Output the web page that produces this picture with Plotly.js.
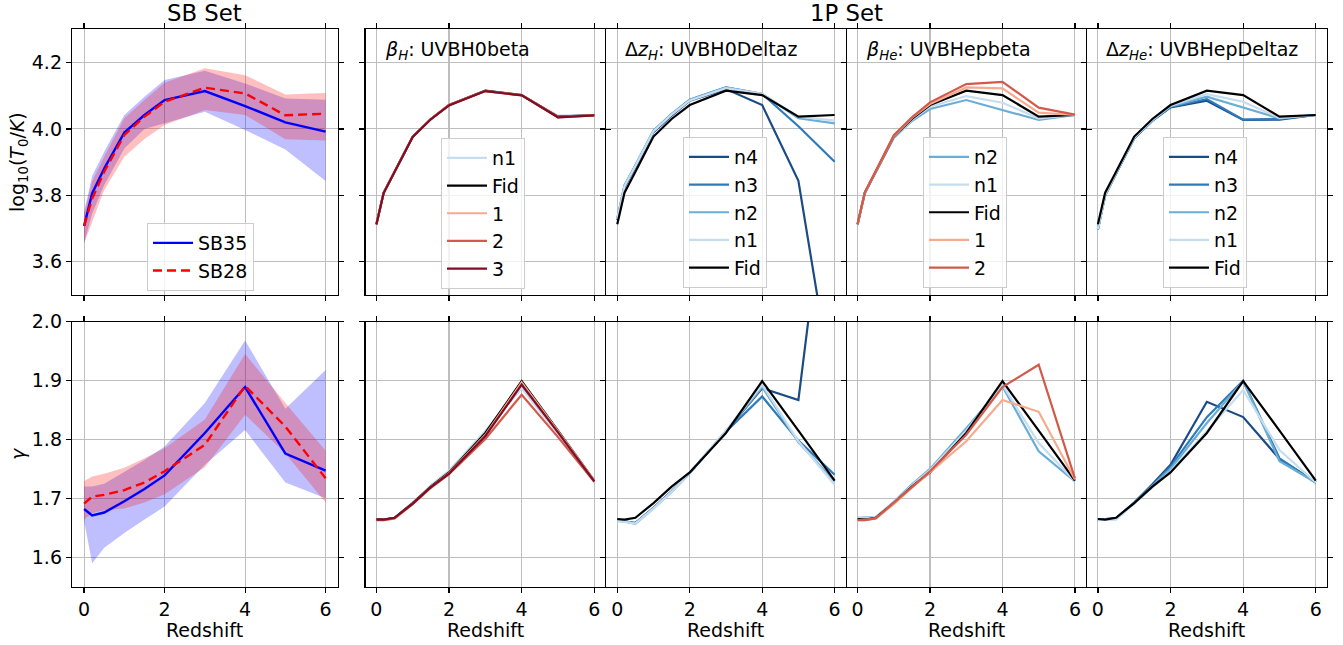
<!DOCTYPE html>
<html><head><meta charset="utf-8">
<script src="https://cdn.plot.ly/plotly-3.0.1.min.js"></script>
<style>html,body{margin:0;padding:0;background:#fff}#chart{width:1343px;height:645px}</style>
</head><body><div id="chart"></div>
<script>
// ---------------- data ----------------
const redshift = [0, 0.2, 0.5, 1, 1.5, 2, 3, 4, 5, 6];

// SB set
const sb35_T0    = [3.708, 3.806, 3.881, 3.989, 4.042, 4.087, 4.114, 4.069, 4.020, 3.992];
const sb35_T0_lo = [3.656, 3.745, 3.831, 3.941, 4.000, 4.017, 4.052, 3.997, 3.938, 3.843];
const sb35_T0_hi = [3.750, 3.858, 3.931, 4.042, 4.097, 4.147, 4.175, 4.137, 4.092, 4.088];
const sb28_T0    = [3.708, 3.790, 3.871, 3.982, 4.037, 4.082, 4.124, 4.107, 4.041, 4.046];
const sb28_T0_lo = [3.655, 3.720, 3.816, 3.916, 3.970, 4.012, 4.057, 4.042, 3.969, 3.965];
const sb28_T0_hi = [3.745, 3.842, 3.916, 4.032, 4.087, 4.139, 4.183, 4.162, 4.104, 4.108];

const sb35_gamma    = [1.682, 1.671, 1.676, 1.695, 1.716, 1.739, 1.811, 1.889, 1.776, 1.747];
const sb35_gamma_lo = [1.662, 1.590, 1.616, 1.641, 1.664, 1.686, 1.757, 1.816, 1.727, 1.700];
const sb35_gamma_hi = [1.720, 1.720, 1.725, 1.745, 1.765, 1.788, 1.862, 1.968, 1.852, 1.918];
const sb28_gamma    = [1.691, 1.703, 1.706, 1.714, 1.727, 1.746, 1.791, 1.891, 1.822, 1.734];
const sb28_gamma_lo = [1.664, 1.675, 1.680, 1.683, 1.693, 1.707, 1.753, 1.842, 1.776, 1.693];
const sb28_gamma_hi = [1.729, 1.737, 1.742, 1.752, 1.768, 1.785, 1.834, 1.945, 1.862, 1.781];

// 1P set: fiducial
const fid_T0    = [3.713, 3.808, 3.871, 3.977, 4.030, 4.072, 4.115, 4.102, 4.037, 4.042];
const fid_gamma = [1.665, 1.664, 1.667, 1.692, 1.720, 1.744, 1.811, 1.899, 1.815, 1.730];

// beta_H : UVBH0beta
const bH_n1_T0 = [3.713, 3.808, 3.871, 3.977, 4.030, 4.072, 4.115, 4.101, 4.040, 4.042];
const bH_1_T0  = [3.713, 3.808, 3.871, 3.977, 4.030, 4.072, 4.114, 4.102, 4.036, 4.042];
const bH_2_T0  = [3.713, 3.807, 3.870, 3.976, 4.030, 4.072, 4.114, 4.102, 4.035, 4.041];
const bH_3_T0  = [3.712, 3.807, 3.870, 3.976, 4.029, 4.071, 4.114, 4.101, 4.035, 4.041];
const bH_n1_gamma = [1.665, 1.664, 1.667, 1.693, 1.722, 1.747, 1.815, 1.887, 1.809, 1.728];
const bH_1_gamma  = [1.664, 1.663, 1.666, 1.691, 1.719, 1.743, 1.808, 1.897, 1.814, 1.730];
const bH_2_gamma  = [1.663, 1.663, 1.666, 1.690, 1.718, 1.741, 1.801, 1.876, 1.804, 1.728];
const bH_3_gamma  = [1.664, 1.664, 1.667, 1.691, 1.719, 1.742, 1.806, 1.893, 1.812, 1.729];

// Delta z_H : UVBH0Deltaz
const dzH_n4_T0 = [3.725, 3.825, 3.885, 3.990, 4.040, 4.085, 4.120, 4.072, 3.844, 3.180];
const dzH_n3_T0 = [3.730, 3.830, 3.890, 3.995, 4.045, 4.088, 4.125, 4.105, 4.008, 3.901];
const dzH_n2_T0 = [3.730, 3.830, 3.890, 3.995, 4.045, 4.088, 4.125, 4.106, 4.032, 4.017];
const dzH_n1_T0 = [3.728, 3.828, 3.888, 3.993, 4.043, 4.086, 4.123, 4.106, 4.037, 4.025];
const dzH_n4_gamma = [1.662, 1.661, 1.658, 1.684, 1.712, 1.743, 1.814, 1.887, 1.867, 2.360];
const dzH_n3_gamma = [1.663, 1.661, 1.658, 1.684, 1.712, 1.743, 1.813, 1.873, 1.798, 1.740];
const dzH_n2_gamma = [1.662, 1.661, 1.657, 1.683, 1.711, 1.743, 1.814, 1.889, 1.795, 1.729];
const dzH_n1_gamma = [1.661, 1.660, 1.657, 1.683, 1.711, 1.744, 1.815, 1.893, 1.797, 1.723];

// beta_He : UVBHepbeta
const bHe_n2_T0 = [3.711, 3.806, 3.869, 3.973, 4.024, 4.060, 4.087, 4.057, 4.027, 4.042];
const bHe_n1_T0 = [3.712, 3.807, 3.870, 3.975, 4.027, 4.067, 4.099, 4.079, 4.032, 4.042];
const bHe_1_T0  = [3.713, 3.808, 3.872, 3.979, 4.033, 4.075, 4.125, 4.122, 4.049, 4.042];
const bHe_2_T0  = [3.714, 3.809, 3.873, 3.981, 4.035, 4.080, 4.135, 4.142, 4.064, 4.043];
const bHe_n2_gamma = [1.667, 1.667, 1.668, 1.694, 1.724, 1.750, 1.819, 1.890, 1.780, 1.729];
const bHe_n1_gamma = [1.667, 1.666, 1.668, 1.693, 1.722, 1.748, 1.815, 1.893, 1.794, 1.729];
const bHe_1_gamma  = [1.663, 1.663, 1.666, 1.690, 1.718, 1.744, 1.797, 1.867, 1.847, 1.732];
const bHe_2_gamma  = [1.663, 1.663, 1.666, 1.692, 1.719, 1.746, 1.808, 1.889, 1.927, 1.734];

// Delta z_He : UVBHepDeltaz
const dzHe_n4_T0 = [3.698, 3.800, 3.866, 3.972, 4.025, 4.065, 4.085, 4.027, 4.028, 4.042];
const dzHe_n3_T0 = [3.698, 3.800, 3.866, 3.972, 4.025, 4.066, 4.090, 4.028, 4.030, 4.042];
const dzHe_n2_T0 = [3.698, 3.801, 3.867, 3.973, 4.026, 4.068, 4.097, 4.065, 4.032, 4.042];
const dzHe_n1_T0 = [3.699, 3.802, 3.868, 3.974, 4.027, 4.070, 4.105, 4.082, 4.033, 4.042];
const dzHe_n4_gamma = [1.664, 1.665, 1.666, 1.693, 1.724, 1.757, 1.864, 1.838, 1.767, 1.727];
const dzHe_n3_gamma = [1.664, 1.665, 1.666, 1.693, 1.722, 1.754, 1.838, 1.900, 1.768, 1.727];
const dzHe_n2_gamma = [1.664, 1.664, 1.665, 1.692, 1.721, 1.750, 1.828, 1.899, 1.763, 1.727];
const dzHe_n1_gamma = [1.663, 1.663, 1.664, 1.691, 1.719, 1.746, 1.814, 1.884, 1.782, 1.727];

const xTicks = [0, 2, 4, 6];
const T0Ticks = [3.6, 3.8, 4.0, 4.2];
const gammaTicks = [1.6, 1.7, 1.8, 1.9, 2.0];

const panelLabels = [
  '<i>β</i><sub><i>H</i></sub>: UVBH0beta',
  'Δ<i>z</i><sub><i>H</i></sub>: UVBH0Deltaz',
  '<i>β</i><sub><i>He</i></sub>: UVBHepbeta',
  'Δ<i>z</i><sub><i>He</i></sub>: UVBHepDeltaz'
];

// colours
const C = {n4:'#1b4b87', n3:'#2e7bba', n2:'#6aaed6', n1:'#c6dcef', Fid:'#000000',
           r1:'#f6ab8e', r2:'#d35a4a', r3:'#800d26'};

const onePanels = [
  [ ['n1', bH_n1_T0, bH_n1_gamma, C.n1], ['Fid', fid_T0, fid_gamma, C.Fid],
    ['1', bH_1_T0, bH_1_gamma, C.r1], ['2', bH_2_T0, bH_2_gamma, C.r2], ['3', bH_3_T0, bH_3_gamma, C.r3] ],
  [ ['n4', dzH_n4_T0, dzH_n4_gamma, C.n4], ['n3', dzH_n3_T0, dzH_n3_gamma, C.n3],
    ['n2', dzH_n2_T0, dzH_n2_gamma, C.n2], ['n1', dzH_n1_T0, dzH_n1_gamma, C.n1], ['Fid', fid_T0, fid_gamma, C.Fid] ],
  [ ['n2', bHe_n2_T0, bHe_n2_gamma, C.n2], ['n1', bHe_n1_T0, bHe_n1_gamma, C.n1],
    ['Fid', fid_T0, fid_gamma, C.Fid], ['1', bHe_1_T0, bHe_1_gamma, C.r1], ['2', bHe_2_T0, bHe_2_gamma, C.r2] ],
  [ ['n4', dzHe_n4_T0, dzHe_n4_gamma, C.n4], ['n3', dzHe_n3_T0, dzHe_n3_gamma, C.n3],
    ['n2', dzHe_n2_T0, dzHe_n2_gamma, C.n2], ['n1', dzHe_n1_T0, dzHe_n1_gamma, C.n1], ['Fid', fid_T0, fid_gamma, C.Fid] ]
];

// ---------------- layout geometry ----------------
const W = 1343, H = 645;
const FONT = 'DejaVu Sans, sans-serif';
const FS = 19;
const LW = 1.2;
// shared borders between 1P panels: shrink each side by LW/2 so mirrored spines coincide
const colLeft  = [72, 365.5, 605.8 + LW / 2, 846.1 + LW / 2, 1086.4 + LW / 2];
const colRight = [337.7, 605.8 - LW / 2, 846.1 - LW / 2, 1086.4 - LW / 2, 1326.7];
const rowTop = [29.3, 321.7], rowBot = [295.0, 586.7];
const legendPos = [[147, 223], [441, 138], [683, 137], [923, 137], [1163, 137]];

function ax(row, col) { const i = row * 5 + col + 1; return {x: 'x' + i, y: 'y' + i}; }
function legName(col) { return col === 0 ? 'legend' : 'legend' + (col + 1); }

const traces = [];
function addBand(lo, hi, color, row) {
  const a = ax(row, 0);
  traces.push({x: redshift, y: lo, xaxis: a.x, yaxis: a.y, mode: 'lines', line: {width: 0, color: color},
    showlegend: false, hoverinfo: 'skip'});
  traces.push({x: redshift, y: hi, xaxis: a.x, yaxis: a.y, mode: 'lines', line: {width: 0, color: color},
    fill: 'tonexty', fillcolor: color, showlegend: false, hoverinfo: 'skip'});
}
// SB bands
addBand(sb35_T0_lo, sb35_T0_hi, 'rgba(0,0,255,0.25)', 0);
addBand(sb28_T0_lo, sb28_T0_hi, 'rgba(255,0,0,0.25)', 0);
addBand(sb35_gamma_lo, sb35_gamma_hi, 'rgba(0,0,255,0.25)', 1);
addBand(sb28_gamma_lo, sb28_gamma_hi, 'rgba(255,0,0,0.25)', 1);
// SB lines
[[sb35_T0, sb35_gamma, 'SB35', 'rgb(0,0,255)', 'solid'], [sb28_T0, sb28_gamma, 'SB28', 'rgb(255,0,0)', '9px,5px']]
.forEach(([t0, g, name, col, dash]) => {
  [t0, g].forEach((ys, row) => {
    const a = ax(row, 0);
    traces.push({x: redshift, y: ys, xaxis: a.x, yaxis: a.y, mode: 'lines', name: name,
      line: {color: col, width: 2.4, dash: dash}, legend: 'legend', showlegend: row === 0});
  });
});
// 1P lines
onePanels.forEach((series, p) => {
  const col = p + 1;
  series.forEach(([name, t0, g, color]) => {
    [t0, g].forEach((ys, row) => {
      const a = ax(row, col);
      traces.push({x: redshift, y: ys, xaxis: a.x, yaxis: a.y, mode: 'lines', name: name,
        line: {color: color, width: 2.2}, legend: legName(col), showlegend: row === 0});
    });
  });
});

const layout = {
  width: W, height: H, margin: {l: 0, r: 0, t: 0, b: 0},
  paper_bgcolor: '#ffffff', plot_bgcolor: '#ffffff',
  font: {family: FONT, size: FS, color: '#000'},
  showlegend: true, annotations: []
};
for (let row = 0; row < 2; row++) {
  for (let col = 0; col < 5; col++) {
    const i = row * 5 + col + 1;
    const xk = i === 1 ? 'xaxis' : 'xaxis' + i, yk = i === 1 ? 'yaxis' : 'yaxis' + i;
    const common = {showline: true, linecolor: '#000', linewidth: LW, mirror: 'ticks', ticks: 'outside',
      ticklen: 5, tickwidth: LW, tickcolor: '#000', showgrid: true, gridcolor: '#bebebe', gridwidth: 1.1,
      zeroline: false, tickfont: {family: FONT, size: FS, color: '#000'}, fixedrange: true};
    layout[xk] = Object.assign({}, common, {domain: [colLeft[col] / W, colRight[col] / W], range: [-0.3, 6.3],
      tickmode: 'array', tickvals: xTicks, ticktext: xTicks.map(String), showticklabels: row === 1, anchor: 'y' + i});
    layout[yk] = Object.assign({}, common, {domain: [1 - rowBot[row] / H, 1 - rowTop[row] / H],
      range: row === 0 ? [3.5, 4.3] : [1.55, 2.0], tickmode: 'array',
      tickvals: row === 0 ? T0Ticks : gammaTicks, ticktext: (row === 0 ? T0Ticks : gammaTicks).map(v => v.toFixed(1)),
      showticklabels: col === 0, anchor: 'x' + i});
    if (row === 1) {
      layout.annotations.push({text: 'Redshift', xref: 'paper', yref: 'paper',
        x: (colLeft[col] + colRight[col]) / 2 / W, y: 1 - 630 / H, xanchor: 'center', yanchor: 'middle',
        showarrow: false, font: {family: FONT, size: FS, color: '#000'}});
    }
  }
}
// legends
legendPos.forEach(([px, py], col) => {
  layout[legName(col)] = {x: px / W, y: 1 - py / H, xref: 'paper', yref: 'paper', xanchor: 'left', yanchor: 'top',
    bgcolor: 'rgba(255,255,255,0.8)', bordercolor: '#cccccc', borderwidth: 1, itemwidth: 40,
    font: {family: FONT, size: FS, color: '#000'}, traceorder: 'normal'};
});
// titles & labels
layout.annotations.push(
  {text: 'SB Set', xref: 'paper', yref: 'paper', x: (colLeft[0] + colRight[0]) / 2 / W, y: 1 - 13 / H,
   xanchor: 'center', yanchor: 'middle', showarrow: false, font: {family: FONT, size: 22.8, color: '#000'}},
  {text: '1P Set', xref: 'paper', yref: 'paper', x: (colLeft[1] + colRight[4]) / 2 / W, y: 1 - 13 / H,
   xanchor: 'center', yanchor: 'middle', showarrow: false, font: {family: FONT, size: 22.8, color: '#000'}},
  {text: 'log<sub>10</sub>(<i>T</i><sub>0</sub>/<i>K</i>)', xref: 'paper', yref: 'paper', x: 18 / W,
   y: 1 - 162 / H, xanchor: 'center', yanchor: 'middle', textangle: -90, showarrow: false,
   font: {family: FONT, size: FS, color: '#000'}},
  {text: '<i>γ</i>', xref: 'paper', yref: 'paper', x: 18 / W, y: 1 - 454 / H, xanchor: 'center',
   yanchor: 'middle', textangle: -90, showarrow: false, font: {family: FONT, size: FS, color: '#000'}}
);
panelLabels.forEach((t, k) => {
  layout.annotations.push({text: t, xref: 'paper', yref: 'paper', x: (colLeft[k + 1] + 17) / W, y: 1 - 36 / H,
    xanchor: 'left', yanchor: 'top', showarrow: false, font: {family: FONT, size: FS, color: '#000'}});
});

Plotly.newPlot('chart', traces, layout, {staticPlot: true, displayModeBar: false});
</script></body></html>
